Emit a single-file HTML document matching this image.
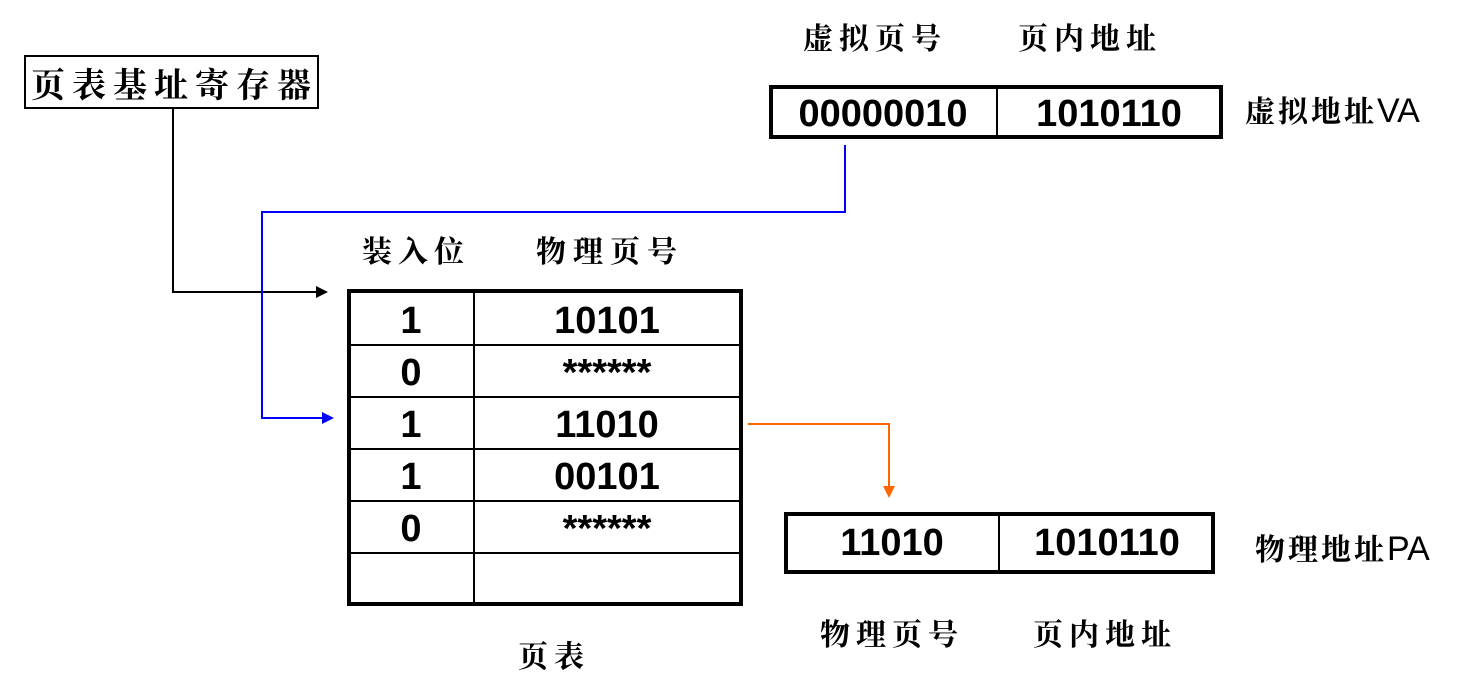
<!DOCTYPE html>
<html><head><meta charset="utf-8"><style>
html,body{margin:0;padding:0;background:#fff;}
svg{display:block;}
.cj{font-family:"Liberation Serif","Noto Serif CJK SC","Noto Sans CJK SC",serif;font-weight:bold;font-size:28px;letter-spacing:6px;}
.n{font-family:"Liberation Sans",sans-serif;font-weight:bold;font-size:38px;}
</style></head><body>
<svg width="1472" height="699" viewBox="0 0 1472 699" xmlns="http://www.w3.org/2000/svg">
<rect x="25" y="56" width="293" height="52" fill="#fff" stroke="#000" stroke-width="2"/>
<text x="31" y="97" class="cj" style="font-size:34px;letter-spacing:7px">页表基址寄存器</text>
<polyline points="173,108 173,292 318,292" fill="none" stroke="#000" stroke-width="2"/>
<polygon points="316,286 328,292 316,298" fill="#000"/>
<polyline points="845,145 845,212 262,212 262,418 323,418" fill="none" stroke="#00f" stroke-width="2"/>
<polygon points="322,412 334,418 322,424" fill="#00f"/>
<polyline points="748,424 889,424 889,487" fill="none" stroke="#f60" stroke-width="2"/>
<polygon points="883,486 889,498 895,486" fill="#f60"/>
<text x="362" y="262" class="cj" style="font-size:30px">装入位</text>
<text x="536" y="262" class="cj" style="font-size:30px;letter-spacing:7px">物理页号</text>
<g stroke="#000">
<rect x="349" y="291" width="392" height="313" fill="none" stroke-width="4"/>
<line x1="474" y1="291" x2="474" y2="604" stroke-width="2"/>
<line x1="349" y1="345" x2="741" y2="345" stroke-width="2"/>
<line x1="349" y1="397" x2="741" y2="397" stroke-width="2"/>
<line x1="349" y1="449" x2="741" y2="449" stroke-width="2"/>
<line x1="349" y1="501" x2="741" y2="501" stroke-width="2"/>
<line x1="349" y1="553" x2="741" y2="553" stroke-width="2"/>
</g>
<g class="n" text-anchor="middle">
<text x="411" y="333">1</text><text x="607" y="333">10101</text>
<text x="411" y="385">0</text><text x="607" y="385">******</text>
<text x="411" y="437">1</text><text x="607" y="437">11010</text>
<text x="411" y="489">1</text><text x="607" y="489">00101</text>
<text x="411" y="541">0</text><text x="607" y="541">******</text>
</g>
<text x="518" y="667" class="cj" style="font-size:30px">页表</text>
<text x="803" y="49" class="cj" style="font-size:30px;letter-spacing:6px">虚拟页号</text>
<text x="1018" y="49" class="cj" style="font-size:30px;letter-spacing:6px">页内地址</text>
<rect x="771" y="87" width="450" height="50" fill="#fff" stroke="#000" stroke-width="4"/>
<line x1="997" y1="87" x2="997" y2="137" stroke="#000" stroke-width="2"/>
<g class="n" text-anchor="middle">
<text x="883" y="126">00000010</text>
<text x="1109" y="126">1010110</text>
</g>
<text x="1245" y="122" class="cj" style="font-size:30px;letter-spacing:3px">虚拟地址<tspan font-family="Liberation Sans" font-weight="normal" font-size="34px" letter-spacing="0">VA</tspan></text>
<rect x="786" y="514" width="427" height="58" fill="#fff" stroke="#000" stroke-width="4"/>
<line x1="999" y1="514" x2="999" y2="572" stroke="#000" stroke-width="2"/>
<g class="n" text-anchor="middle">
<text x="892" y="555">11010</text>
<text x="1107" y="555">1010110</text>
</g>
<text x="1255" y="560" class="cj" style="font-size:30px;letter-spacing:3px">物理地址<tspan font-family="Liberation Sans" font-weight="normal" font-size="34px" letter-spacing="0">PA</tspan></text>
<text x="820" y="645" class="cj" style="font-size:30px;letter-spacing:6px">物理页号</text>
<text x="1033" y="645" class="cj" style="font-size:30px;letter-spacing:6px">页内地址</text>
</svg>
</body></html>
